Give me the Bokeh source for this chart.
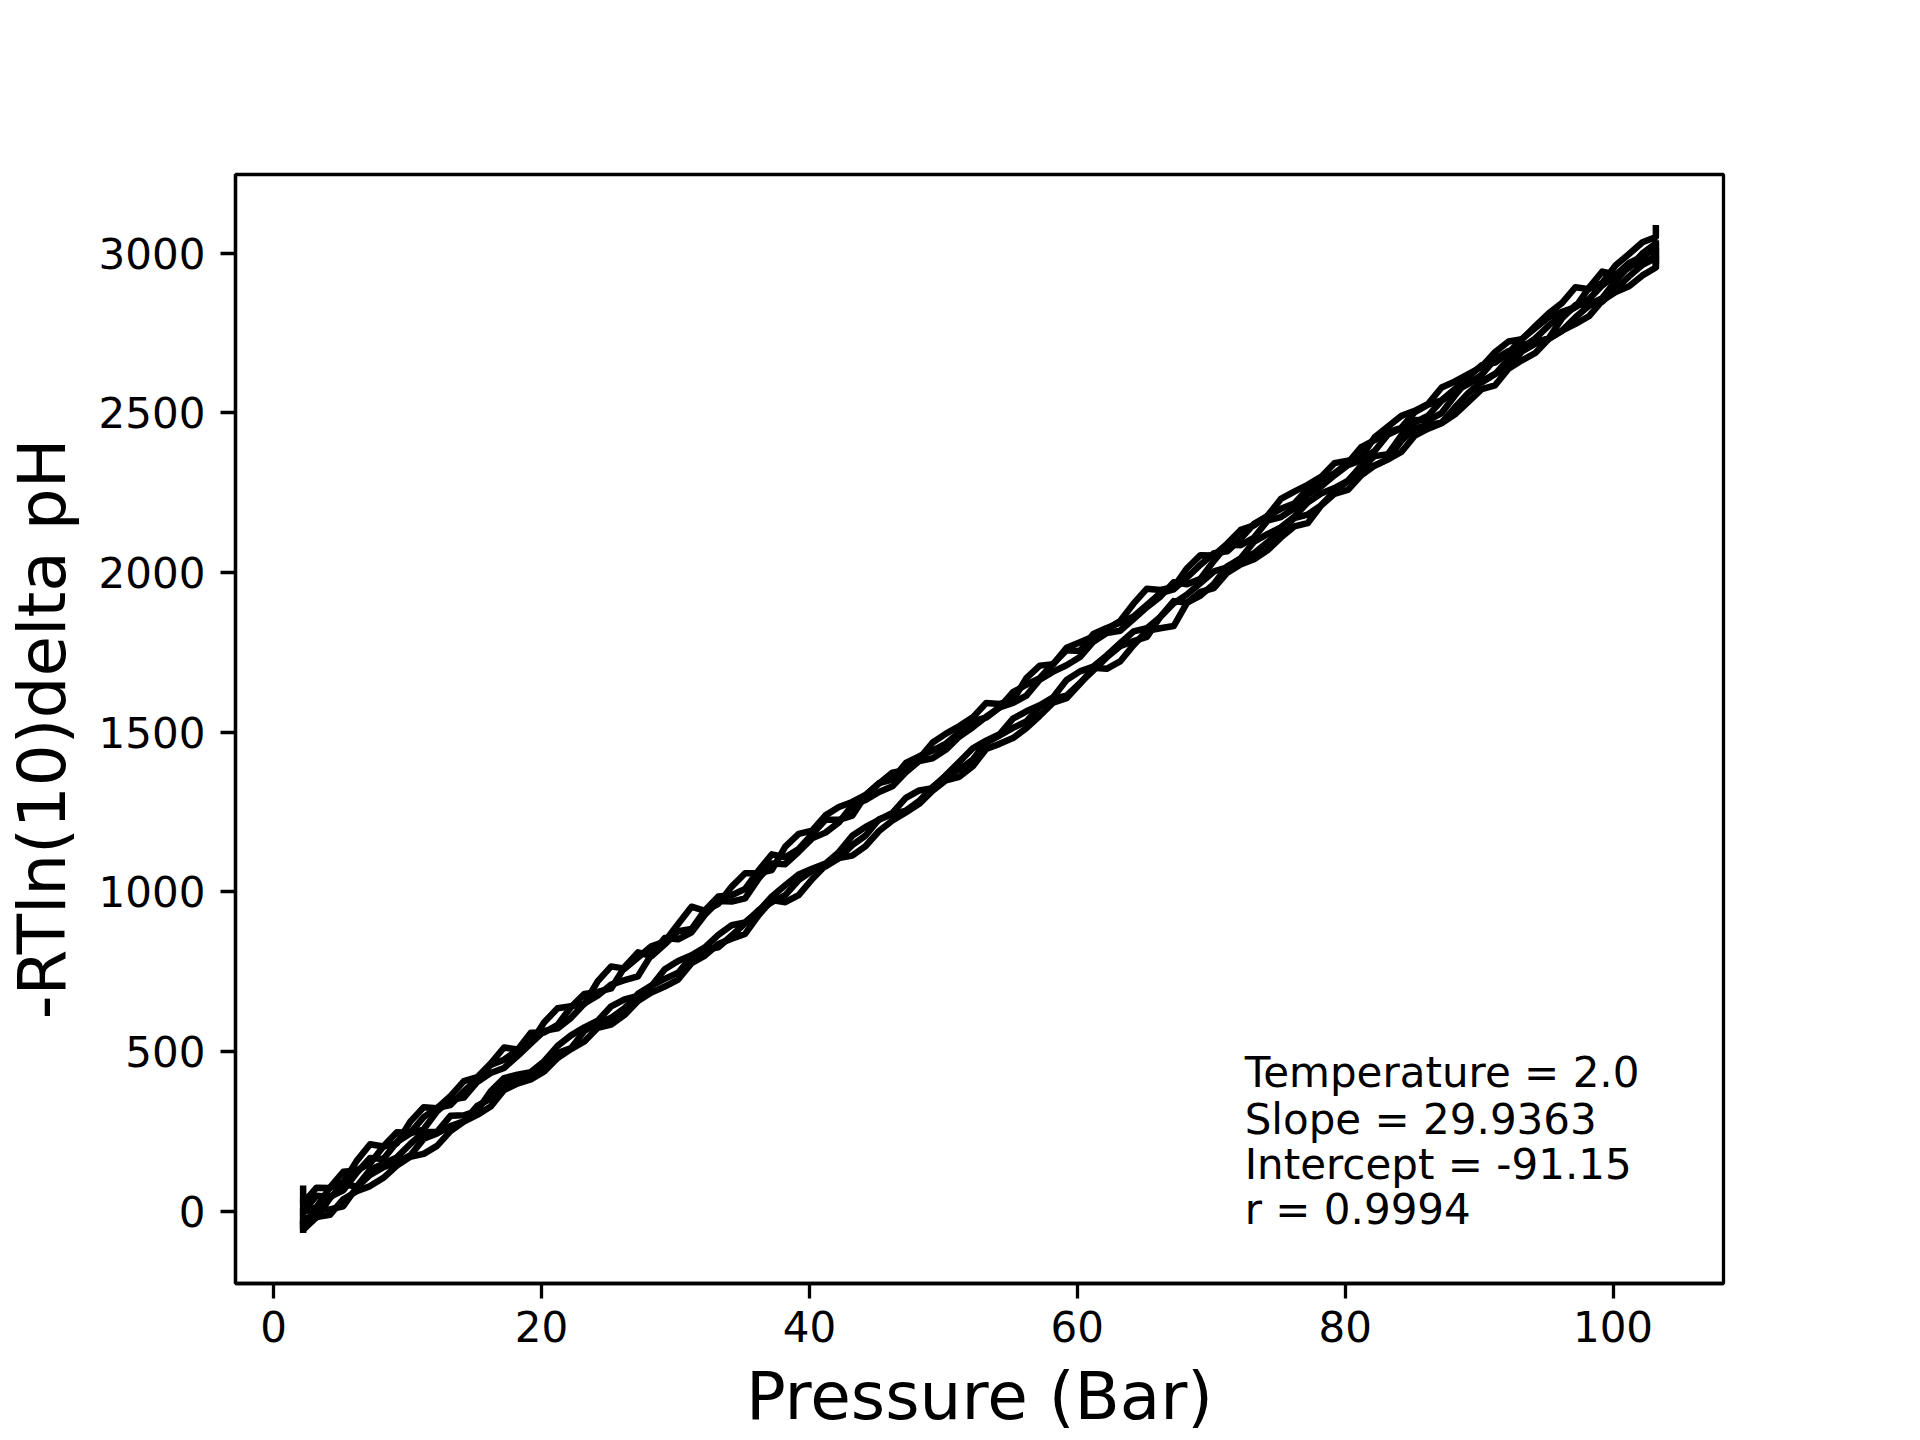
from bokeh.plotting import figure
from bokeh.models import Range1d, FixedTicker
from bokeh.core.properties import value
from bokeh.embed import file_html
from bokeh.resources import INLINE

# ---- data ----
pressure = [2.2, 2.2, 3.2, 4.2, 5.2, 6.2, 7.2, 8.2, 9.2, 10.2, 11.2, 12.2, 13.2, 14.2, 15.2,
            16.2, 17.2, 18.2, 19.2, 20.2, 21.2, 22.2, 23.2, 24.2, 25.2, 26.2, 27.2, 28.2,
            29.2, 30.2, 31.2, 32.2, 33.2, 34.2, 35.2, 36.2, 37.2, 38.2, 39.2, 40.2, 41.2,
            42.2, 43.2, 44.2, 45.2, 46.2, 47.2, 48.2, 49.2, 50.2, 51.2, 52.2, 53.2, 54.2,
            55.2, 56.2, 57.2, 58.2, 59.2, 60.2, 61.2, 62.2, 63.2, 64.2, 65.2, 66.2, 67.2,
            68.2, 69.2, 70.2, 71.2, 72.2, 73.2, 74.2, 75.2, 76.2, 77.2, 78.2, 79.2, 80.2,
            81.2, 82.2, 83.2, 84.2, 85.2, 86.2, 87.2, 88.2, 89.2, 90.2, 91.2, 92.2, 93.2,
            94.2, 95.2, 96.2, 97.2, 98.2, 99.2, 100.2, 101.2, 102.2, 103.2, 103.2]

run_a = [80, 25, 73, 72, 90, 157, 209, 202, 212, 280, 325, 322, 360, 407, 419, 462, 512,
         506, 526, 591, 635, 641, 649, 720, 766, 759, 794, 829, 844, 899, 953, 940, 962,
         1016, 1058, 1058, 1068, 1141, 1181, 1191, 1239, 1265, 1281, 1303, 1339, 1373, 1381,
         1417, 1467, 1495, 1519, 1546, 1591, 1588, 1600, 1669, 1708, 1712, 1764, 1781, 1799,
         1822, 1848, 1902, 1949, 1945, 1954, 2013, 2054, 2053, 2090, 2133, 2147, 2177, 2230,
         2253, 2274, 2299, 2342, 2350, 2361, 2423, 2457, 2490, 2506, 2528, 2579, 2598, 2621,
         2644, 2690, 2723, 2730, 2771, 2811, 2844, 2893, 2887, 2906, 2962, 2997, 3034, 3050,
         3088]
run_b = [-55, -3, 12, 73, 123, 127, 149, 203, 247, 245, 294, 323, 332, 375, 414, 457, 474,
         504, 558, 559, 583, 639, 680, 686, 697, 764, 810, 798, 835, 876, 883, 942, 985,
         989, 1009, 1066, 1117, 1108, 1134, 1180, 1225, 1225, 1238, 1302, 1340, 1351, 1403,
         1424, 1442, 1464, 1499, 1535, 1545, 1577, 1625, 1648, 1669, 1714, 1756, 1754, 1807,
         1826, 1842, 1862, 1898, 1935, 1947, 1984, 2024, 2060, 2066, 2105, 2152, 2176, 2199,
         2216, 2260, 2291, 2310, 2342, 2392, 2414, 2439, 2453, 2502, 2525, 2539, 2574, 2612,
         2649, 2657, 2688, 2731, 2765, 2799, 2816, 2831, 2891, 2942, 2933, 2954, 2999, 3030,
         2965]
run_c = [40, -3, 48, 44, 65, 120, 166, 163, 216, 243, 256, 312, 348, 355, 404, 432, 448,
         485, 525, 564, 572, 605, 650, 675, 709, 723, 735, 803, 855, 851, 873, 928, 971,
         969, 979, 1041, 1088, 1086, 1125, 1167, 1185, 1217, 1271, 1287, 1312, 1330, 1374,
         1409, 1418, 1445, 1486, 1515, 1548, 1577, 1591, 1614, 1664, 1689, 1709, 1735, 1783,
         1810, 1817, 1854, 1891, 1924, 1969, 1963, 1980, 2036, 2087, 2085, 2109, 2162, 2173,
         2201, 2243, 2269, 2304, 2336, 2351, 2380, 2432, 2451, 2470, 2491, 2537, 2568, 2590,
         2619, 2668, 2693, 2703, 2733, 2773, 2805, 2831, 2855, 2899, 2931, 2969, 2989, 3015,
         2975]
run_d = [-69, -33, -21, 40, 84, 77, 129, 148, 168, 210, 247, 248, 298, 300, 314, 375, 416,
         427, 435, 469, 517, 550, 575, 596, 641, 663, 674, 704, 757, 783, 801, 826, 865,
         895, 904, 939, 985, 1020, 1054, 1072, 1088, 1124, 1175, 1203, 1225, 1247, 1294,
         1317, 1324, 1365, 1407, 1449, 1473, 1493, 1542, 1565, 1584, 1609, 1663, 1690, 1705,
         1740, 1778, 1815, 1825, 1860, 1903, 1931, 1967, 2003, 2016, 2044, 2096, 2120, 2141,
         2174, 2219, 2247, 2264, 2287, 2327, 2364, 2370, 2429, 2477, 2476, 2499, 2554, 2604,
         2595, 2621, 2668, 2712, 2721, 2733, 2796, 2837, 2839, 2859, 2913, 2959, 2969, 2990,
         2950]
run_e = [10, -38, 5, 5, 15, 74, 113, 137, 152, 174, 226, 243, 266, 281, 329, 352, 394,
         416, 427, 459, 495, 510, 564, 588, 605, 635, 680, 706, 727, 746, 796, 818, 826,
         863, 901, 942, 967, 989, 1036, 1065, 1079, 1105, 1146, 1176, 1227, 1242, 1254,
         1284, 1328, 1363, 1383, 1414, 1467, 1489, 1513, 1533, 1579, 1605, 1614, 1653, 1693,
         1734, 1769, 1785, 1798, 1861, 1910, 1905, 1927, 1964, 2019, 2042, 2060, 2094, 2131,
         2170, 2181, 2210, 2253, 2286, 2334, 2335, 2354, 2412, 2451, 2462, 2469, 2517, 2562,
         2598, 2622, 2642, 2692, 2716, 2732, 2757, 2799, 2835, 2848, 2887, 2927, 2963, 2985,
         3040]
run_f = [-30, -59, -19, -12, 37, 62, 78, 104, 142, 170, 179, 204, 250, 280, 301, 327, 379,
         399, 412, 437, 479, 507, 531, 574, 584, 614, 658, 684, 703, 725, 776, 800, 836,
         853, 868, 926, 974, 967, 989, 1039, 1082, 1105, 1113, 1143, 1190, 1223, 1248,
         1275, 1316, 1349, 1360, 1393, 1447, 1463, 1481, 1512, 1551, 1592, 1606, 1651, 1701,
         1698, 1721, 1772, 1817, 1825, 1832, 1905, 1939, 1951, 1999, 2025, 2041, 2069, 2109,
         2144, 2154, 2209, 2246, 2258, 2304, 2334, 2354, 2377, 2428, 2450, 2467, 2495, 2534,
         2574, 2586, 2638, 2664, 2687, 2731, 2757, 2778, 2802, 2851, 2878, 2896, 2930, 2955,
         2980]

runs = [run_a, run_b, run_c, run_d, run_e, run_f]

x_ticks = [0, 20, 40, 60, 80, 100]
y_ticks = [0, 500, 1000, 1500, 2000, 2500, 3000]

temperature = 2.0
slope = 29.9363
intercept = -91.15
r_value = 0.9994

FONT = "DejaVu Sans"

p = figure(frame_width=1488, frame_height=1109,
           min_border_left=232, min_border_right=182,
           min_border_top=174, min_border_bottom=141,
           x_range=Range1d(-2.85, 108.25), y_range=Range1d(-227, 3246),
           output_backend="svg", toolbar_location=None, tools="")

p.background_fill_color = "white"
p.border_fill_color = "white"
p.grid.visible = False
p.outline_line_color = "black"
p.outline_line_width = 3.3

for ys in runs:
    n = min(len(ys), len(pressure))
    p.line(pressure[:n], ys[:n], line_color="black", line_width=6.5, line_join="round")

labels = [f"Temperature = {temperature}",
          f"Slope = {slope}",
          f"Intercept = {intercept}",
          f"r = {r_value}"]
p.text(x=[72.5, 72.5, 72.5, 72.5], y=[433, 288, 146, 4], text=labels,
       text_font=value(FONT), text_font_size="42px", text_color="black",
       text_align="left", text_baseline="middle")

p.xaxis.ticker = FixedTicker(ticks=x_ticks)
p.yaxis.ticker = FixedTicker(ticks=y_ticks)
for ax in (p.xaxis[0], p.yaxis[0]):
    ax.axis_line_color = "black"
    ax.axis_line_width = 3.3
    ax.major_tick_line_color = "black"
    ax.major_tick_line_width = 3.3
    ax.major_tick_out = 15
    ax.major_tick_in = 0
    ax.minor_tick_line_color = None
    ax.major_label_text_font = FONT
    ax.major_label_text_font_size = "42px"
    ax.major_label_text_color = "black"
    ax.axis_label_text_font = FONT
    ax.axis_label_text_font_size = "66px"
    ax.axis_label_text_font_style = "normal"
    ax.axis_label_text_color = "black"

p.xaxis.axis_label = "Pressure (Bar)"
p.yaxis.axis_label = "-RTln(10)delta pH"
p.xaxis.major_label_standoff = 12
p.yaxis.major_label_standoff = 15
p.xaxis.axis_label_standoff = 13
p.yaxis.axis_label_standoff = 15

open("out.html", "w").write(file_html(p, INLINE))
